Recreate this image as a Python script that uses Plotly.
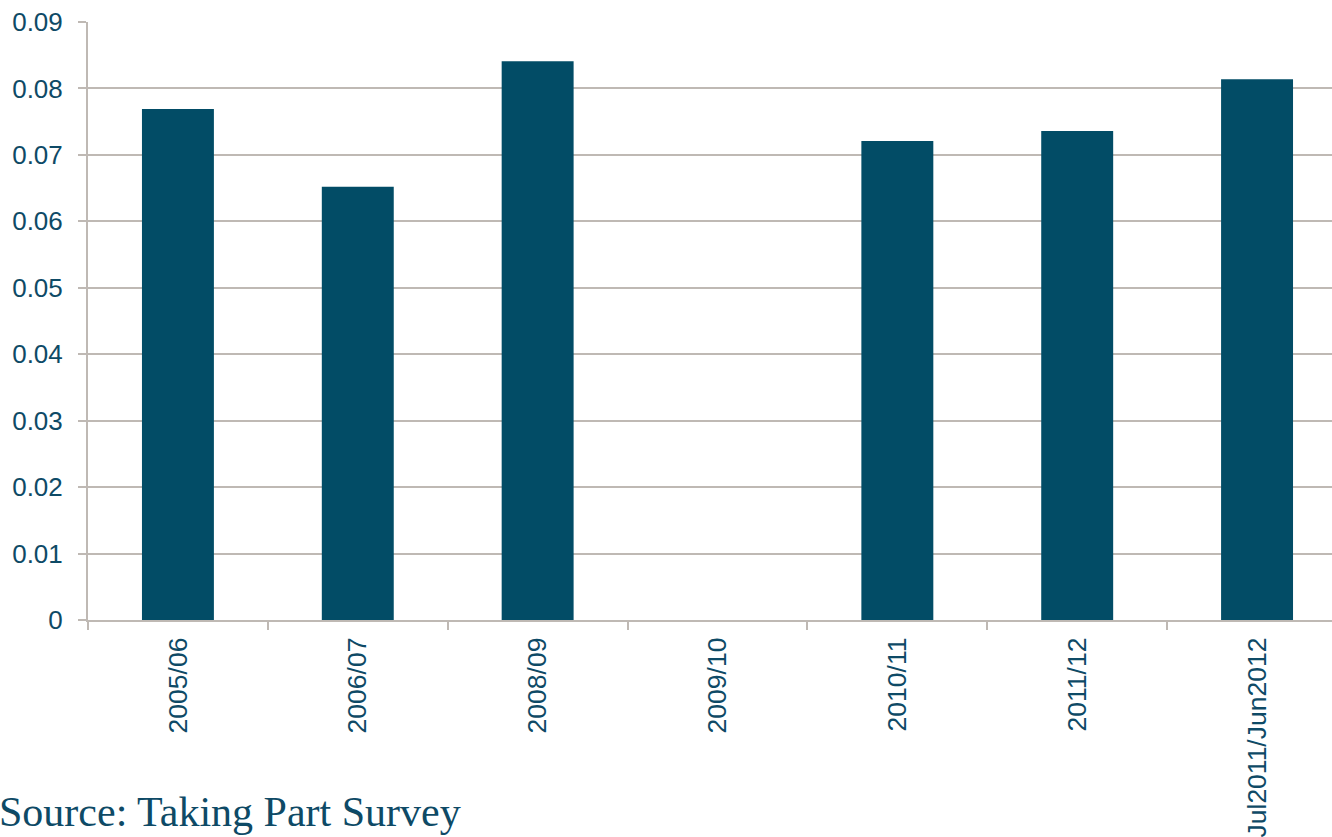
import plotly.graph_objects as go

categories = ["2005/06", "2006/07", "2008/09", "2009/10", "2010/11", "2011/12", "Jul2011/Jun2012"]
values = [0.0769, 0.0652, 0.0841, None, 0.0721, 0.0736, 0.0814]
y_ticks = [0, 0.01, 0.02, 0.03, 0.04, 0.05, 0.06, 0.07, 0.08, 0.09]
y_tick_labels = ["0", "0.01", "0.02", "0.03", "0.04", "0.05", "0.06", "0.07", "0.08", "0.09"]

bar_color = "#024C66"
text_color = "#0E4A66"
grid_color = "#BFB9B4"

fig = go.Figure()
fig.add_trace(go.Bar(x=categories, y=values, marker=dict(color=bar_color, line=dict(width=0))))

fig.update_layout(
    width=1332, height=837,
    margin=dict(l=88, r=0, t=22, b=217),
    plot_bgcolor="white", paper_bgcolor="white",
    bargap=0.6,
    showlegend=False,
    font=dict(family="Liberation Sans, Arial, sans-serif", size=26, color=text_color),
)
fig.update_xaxes(
    type="category",
    range=[-0.5, 6.4167],
    tickangle=-90,
    showgrid=False,
    showline=True, linecolor=grid_color, linewidth=2,
    ticks="outside", tickson="boundaries", ticklen=8, tickcolor=grid_color, tickwidth=2,
    ticklabelstandoff=5,
    tickfont=dict(size=26.5, color=text_color),
)
fig.update_yaxes(
    range=[0, 0.09],
    tickvals=y_ticks, ticktext=y_tick_labels,
    showgrid=True, gridcolor=grid_color, gridwidth=2,
    showline=True, linecolor=grid_color, linewidth=2,
    ticks="outside", ticklen=8, tickcolor=grid_color, tickwidth=2,
    ticklabelstandoff=10,
    zeroline=False,
    tickfont=dict(size=26, color=text_color),
)
fig.add_annotation(
    text="Source: Taking Part Survey",
    xref="paper", yref="paper", x=0, y=0,
    xanchor="left", yanchor="bottom",
    xshift=-91, yshift=-217,
    showarrow=False,
    font=dict(family="Liberation Serif, Times New Roman, serif", size=42, color=text_color),
)
fig.write_html("out.html")
